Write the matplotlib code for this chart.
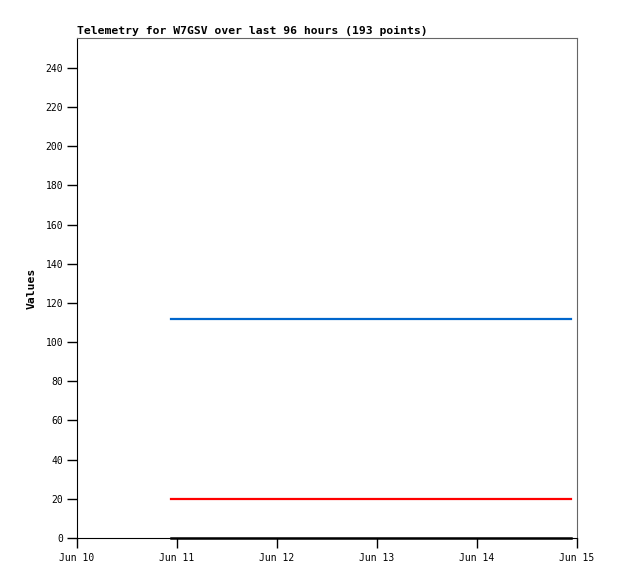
import matplotlib
matplotlib.use("Agg")
import matplotlib.pyplot as plt
import matplotlib.dates as mdates
import pandas as pd

# Telemetry series (constant over the window), start and end samples
times = pd.to_datetime(["2024-06-10 22:30", "2024-06-14 22:30"])
series_blue = [112, 112]
series_red = [20, 20]
series_black = [0, 0]

x_ticks = pd.to_datetime(["2024-06-10", "2024-06-11", "2024-06-12",
                          "2024-06-13", "2024-06-14", "2024-06-15"])
y_ticks = list(range(0, 241, 20))

plt.rcParams['font.family'] = ['DejaVu Sans Mono']

fig = plt.figure(figsize=(6.18, 5.79), dpi=100)
ax = fig.add_axes([77 / 618, 41 / 579, 500 / 618, 500 / 579])

ax.plot(times, series_blue, color='#0066cc', linewidth=1.6)
ax.plot(times, series_red, color='#ff0000', linewidth=1.6)
ax.plot(times, series_black, color='#000000', linewidth=1.8, clip_on=False, zorder=5)

ax.set_xlim(x_ticks[0], x_ticks[-1])
ax.set_ylim(0, 255.3)
ax.set_xticks(x_ticks)
ax.xaxis.set_major_formatter(mdates.DateFormatter('%b %d'))
ax.set_yticks(y_ticks)

ax.tick_params(direction='out', length=7, width=1, labelsize=7, pad=3)
ax.tick_params(axis='x', pad=4)
for side in ['top', 'right']:
    ax.spines[side].set_color('#666666')
for side in ['left', 'bottom']:
    ax.spines[side].set_color('#000000')

ax.set_ylabel('Values', fontsize=8.2, fontweight='bold', labelpad=6)
fig.text(77 / 618, 1 - 31 / 579, 'Telemetry for W7GSV over last 96 hours (193 points)',
         fontsize=8.2, fontweight='heavy', ha='left', va='center')

fig.savefig('out.png', dpi=100)
